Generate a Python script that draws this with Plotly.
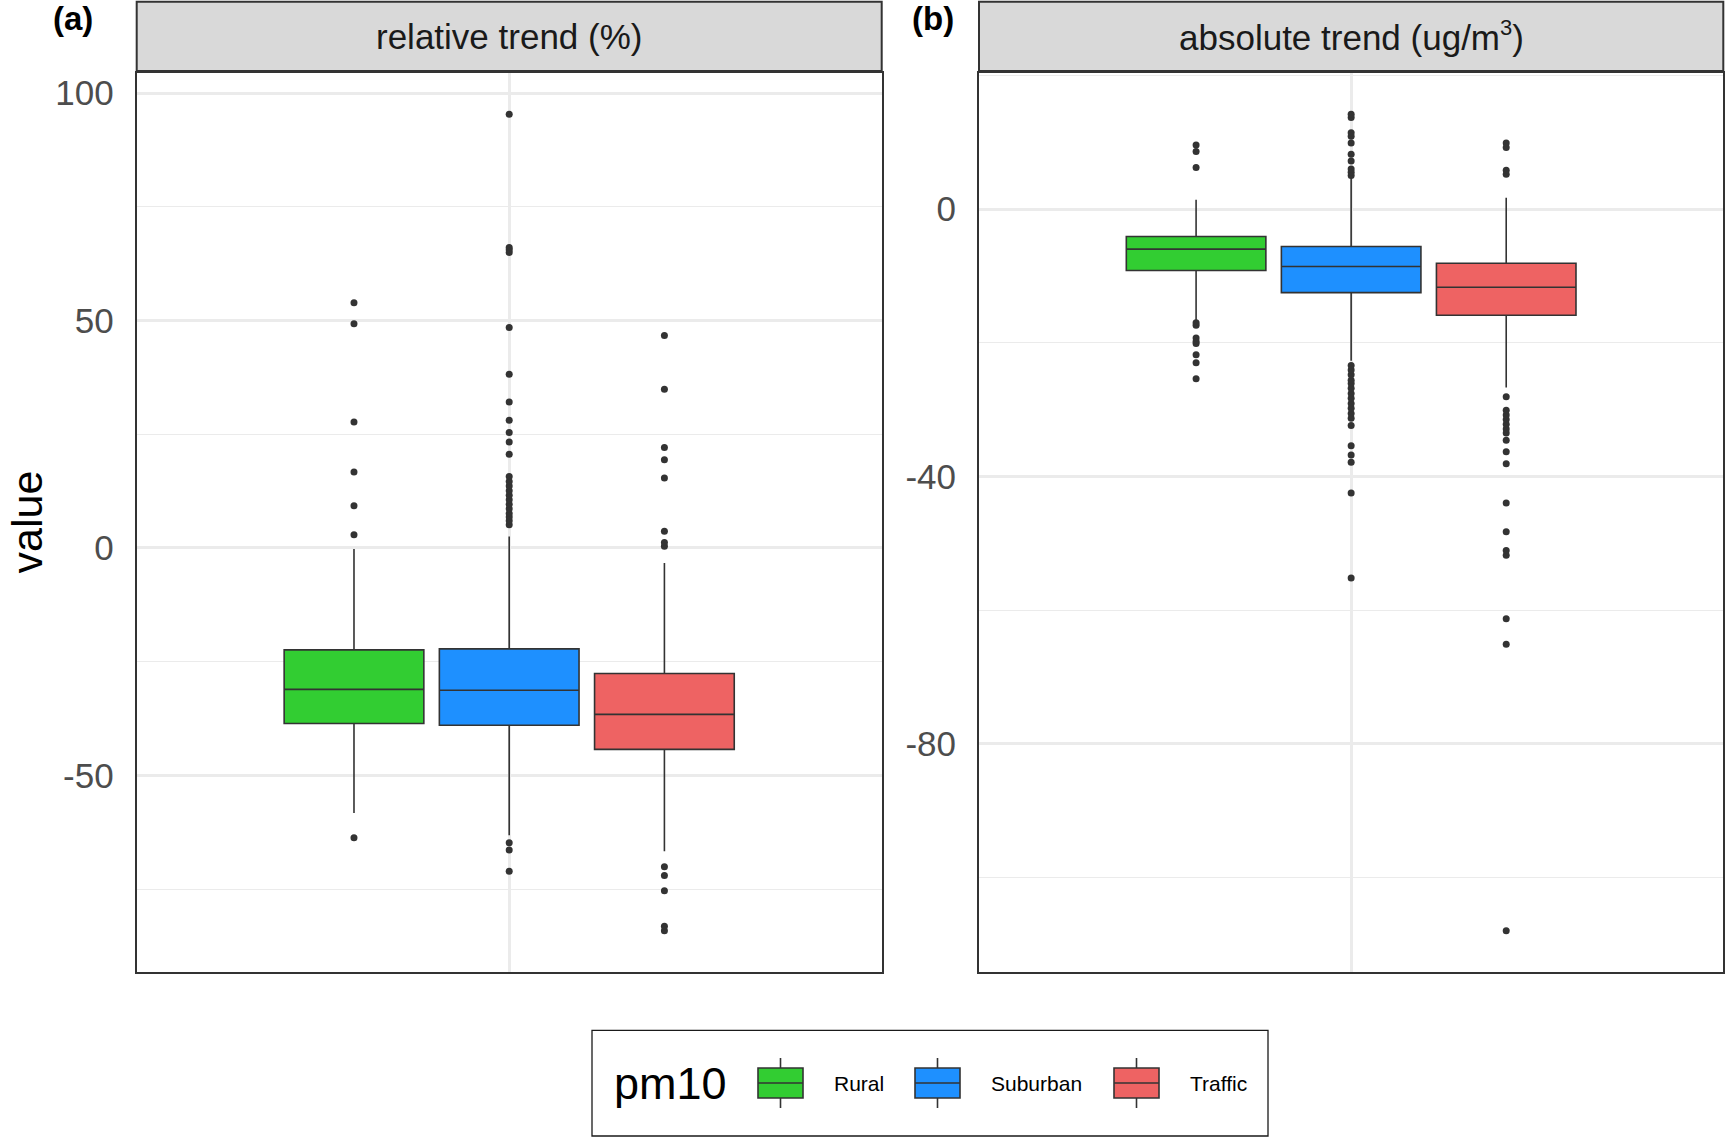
import plotly.graph_objects as go

# ---------------- data ----------------
groups = ["Rural", "Suburban", "Traffic"]
colors = ["#32CD32", "#1E90FF", "#EE6363"]
category = ["pm10"]

# panel (a): relative trend (%)
rel_q1 = [-38.6, -39.0, -44.3]
rel_median = [-31.1, -31.3, -36.6]
rel_q3 = [-22.4, -22.2, -27.6]
rel_lower = [-58.3, -63.2, -66.7]
rel_upper = [-0.2, 2.5, -3.3]
rel_out_rural = [53.9, 49.3, 27.7, 16.7, 9.3, 2.9, -63.7]
rel_out_suburban = [95.4, 66.1, 65.6, 65.0, 48.5, 38.2, 32.1, 28.1, 25.4, 23.3,
                    20.6, 15.7, 14.6, 13.6, 12.6, 11.6, 10.6, 9.6, 8.6, 7.6,
                    6.8, 6.0, 5.1, -64.8, -66.4, -71.1]
rel_out_traffic = [46.7, 34.9, 22.1, 19.4, 15.4, 3.7, 1.2, 0.4,
                   -70.1, -72.0, -75.4, -83.2, -84.2]

# panel (b): absolute trend (ug/m3)
abs_q1 = [-9.2, -12.5, -15.9]
abs_median = [-6.0, -8.6, -11.7]
abs_q3 = [-4.1, -5.6, -8.1]
abs_lower = [-16.6, -22.7, -26.7]
abs_upper = [1.4, 4.7, 1.7]
abs_out_rural = [9.6, 8.6, 6.2, -17.0, -17.4, -19.3, -19.8, -20.1, -21.8, -23.0, -25.4]
abs_out_suburban = [14.2, 13.7, 11.4, 10.9, 9.9, 8.2, 7.2, 6.0, 5.5, 5.0,
                    -23.4, -24.1, -24.8, -25.6, -26.1, -26.8, -27.6, -28.3, -29.1,
                    -29.8, -30.6, -31.3, -32.4, -35.4, -36.8, -37.9, -42.5, -55.2]
abs_out_traffic = [9.9, 9.2, 5.8, 5.2, -28.1, -30.1, -30.8, -31.5, -32.2, -32.9,
                   -33.5, -34.6, -36.3, -38.1, -44.0, -48.3, -51.1, -51.8,
                   -61.3, -65.1, -108.0]

rel_tickvals = [-50, 0, 50, 100]
rel_ticktext = ["-50", "0", "50", "100"]
rel_minor = [-75, -25, 25, 75]
abs_tickvals = [-80, -40, 0]
abs_ticktext = ["-80", "-40", "0"]
abs_minor = [-100, -60, -20, 20]

panel_titles = ["relative trend (%)",
                "absolute trend (ug/m<sup><span style='font-size:22px'>3</span></sup>)"]
panel_tags = ["(a)", "(b)"]
y_title = "value"
legend_title = "pm10"

# ---------------- figure ----------------
W, H = 1726, 1137
FONT = "Liberation Sans, Arial, Helvetica, sans-serif"
DARK = "#333333"
GRID = "#EBEBEB"

panels = [
    dict(q1=rel_q1, med=rel_median, q3=rel_q3, lo=rel_lower, hi=rel_upper,
         outs=[rel_out_rural, rel_out_suburban, rel_out_traffic], xa="x", ya="y", grp="a"),
    dict(q1=abs_q1, med=abs_median, q3=abs_q3, lo=abs_lower, hi=abs_upper,
         outs=[abs_out_rural, abs_out_suburban, abs_out_traffic], xa="x2", ya="y2", grp="b"),
]

fig = go.Figure()
for p_i, p in enumerate(panels):
    for g_i, g in enumerate(groups):
        fig.add_trace(go.Box(
            x=category,
            y=[p["outs"][g_i]],
            q1=[p["q1"][g_i]], median=[p["med"][g_i]], q3=[p["q3"][g_i]],
            lowerfence=[p["lo"][g_i]], upperfence=[p["hi"][g_i]],
            name=g, legendgroup=g, showlegend=False,
            alignmentgroup=p["grp"], offsetgroup=g,
            fillcolor=colors[g_i],
            line=dict(color=DARK, width=1.6),
            whiskerwidth=0,
            boxpoints="outliers", jitter=0, pointpos=0,
            marker=dict(color=DARK, size=7, line=dict(width=0)),
            xaxis=p["xa"], yaxis=p["ya"],
            hoverinfo="y",
        ))


def expand(vals_lists):
    allv = [v for lst in vals_lists for v in lst]
    lo, hi = min(allv), max(allv)
    pad = 0.05 * (hi - lo)
    return [lo - pad, hi + pad]


rel_range = expand([rel_q1, rel_lower, rel_upper, rel_out_rural, rel_out_suburban, rel_out_traffic])
abs_range = expand([abs_q1, abs_lower, abs_upper, abs_out_rural, abs_out_suburban, abs_out_traffic])

# panel geometry (pixels of the reference)
pa_x = [136.7 / W, 881.7 / W]
pb_x = [979.0 / W, 1723.3 / W]
plot_y = [1 - 971.7 / H, 1 - 73.3 / H]
strip_y = [1 - 71.0 / H, 1 - 1.7 / H]

xcommon = dict(type="category", range=[-0.6, 0.6], showticklabels=False, ticks="",
               showgrid=True, gridcolor=GRID, gridwidth=2.5, zeroline=False,
               showline=True, mirror=True, linecolor=DARK, linewidth=2)
ycommon = dict(showgrid=True, gridcolor=GRID, gridwidth=2.7, zeroline=False,
               showline=True, mirror=True, linecolor=DARK, linewidth=2, ticks="",
               tickfont=dict(family=FONT, size=35, color="#4D4D4D"),
               ticklabelstandoff=14)

fig.update_layout(
    width=W, height=H,
    margin=dict(l=0, r=0, t=0, b=0),
    paper_bgcolor="white", plot_bgcolor="white",
    font=dict(family=FONT, color="#1A1A1A"),
    boxmode="group", boxgap=0.25, boxgroupgap=0.1,
    showlegend=False,
    xaxis=dict(domain=pa_x, anchor="y", **xcommon),
    xaxis2=dict(domain=pb_x, anchor="y2", **xcommon),
    yaxis=dict(domain=plot_y, anchor="x", range=rel_range, tickmode="array",
               tickvals=rel_tickvals, ticktext=rel_ticktext,
               minor=dict(tickmode="array", tickvals=rel_minor, showgrid=True,
                          gridcolor=GRID, gridwidth=1.4, ticks=""),
               **ycommon),
    yaxis2=dict(domain=plot_y, anchor="x2", range=abs_range, tickmode="array",
                tickvals=abs_tickvals, ticktext=abs_ticktext,
                minor=dict(tickmode="array", tickvals=abs_minor, showgrid=True,
                           gridcolor=GRID, gridwidth=1.4, ticks=""),
                **ycommon),
)

shapes = []
annotations = []
# facet strips
for i, dom in enumerate([pa_x, pb_x]):
    shapes.append(dict(type="rect", xref="paper", yref="paper",
                       x0=dom[0], x1=dom[1], y0=strip_y[0], y1=strip_y[1],
                       fillcolor="#D9D9D9", line=dict(color=DARK, width=2), layer="above"))
    annotations.append(dict(xref="paper", yref="paper", x=(dom[0] + dom[1]) / 2,
                            y=(strip_y[0] + strip_y[1]) / 2, text=panel_titles[i],
                            showarrow=False, xanchor="center", yanchor="middle",
                            font=dict(family=FONT, size=35, color="#1A1A1A")))
# panel tags
tag_x = [72.5 / W, 932.5 / W]
for i, t in enumerate(panel_tags):
    annotations.append(dict(xref="paper", yref="paper", x=tag_x[i], y=1 - 18.5 / H,
                            text="<b>" + t + "</b>", showarrow=False,
                            xanchor="center", yanchor="middle",
                            font=dict(family=FONT, size=33, color="black")))
# y axis title
annotations.append(dict(xref="paper", yref="paper", x=26 / W, y=(plot_y[0] + plot_y[1]) / 2,
                        text=y_title, textangle=-90, showarrow=False,
                        xanchor="center", yanchor="middle",
                        font=dict(family=FONT, size=43, color="black")))

# legend (ggplot-style keys)
shapes.append(dict(type="rect", xref="paper", yref="paper",
                   x0=592 / W, x1=1268 / W, y0=1 - 1136 / H, y1=1 - 1030.3 / H,
                   line=dict(color="#1A1A1A", width=1.3), fillcolor="rgba(0,0,0,0)"))
annotations.append(dict(xref="paper", yref="paper", x=612 / W, y=1 - 1083 / H,
                        text=legend_title, showarrow=False, xanchor="left", yanchor="middle",
                        font=dict(family=FONT, size=45, color="black")))
key_x0 = [758, 915, 1114]
key_w, key_top, key_bot, key_mid = 45, 1068, 1098, 1083
for g_i, g in enumerate(groups):
    x0 = key_x0[g_i]
    xc = x0 + key_w / 2
    for ya, yb in [(key_top - 10, key_top), (key_bot, key_bot + 10)]:
        shapes.append(dict(type="line", xref="paper", yref="paper",
                           x0=xc / W, x1=xc / W, y0=1 - ya / H, y1=1 - yb / H,
                           line=dict(color=DARK, width=1.6)))
    shapes.append(dict(type="rect", xref="paper", yref="paper",
                       x0=x0 / W, x1=(x0 + key_w) / W, y0=1 - key_bot / H, y1=1 - key_top / H,
                       fillcolor=colors[g_i], line=dict(color=DARK, width=1.6)))
    shapes.append(dict(type="line", xref="paper", yref="paper",
                       x0=x0 / W, x1=(x0 + key_w) / W, y0=1 - key_mid / H, y1=1 - key_mid / H,
                       line=dict(color=DARK, width=1.6)))
    annotations.append(dict(xref="paper", yref="paper", x=(x0 + key_w + 29) / W, y=1 - key_mid / H,
                            text=g, showarrow=False, xanchor="left", yanchor="middle",
                            font=dict(family=FONT, size=21, color="black")))

fig.update_layout(shapes=shapes, annotations=annotations)

fig.write_html("out.html", config={"displayModeBar": False},
               post_script="document.body.style.margin='0px';document.body.style.overflow='hidden';")
